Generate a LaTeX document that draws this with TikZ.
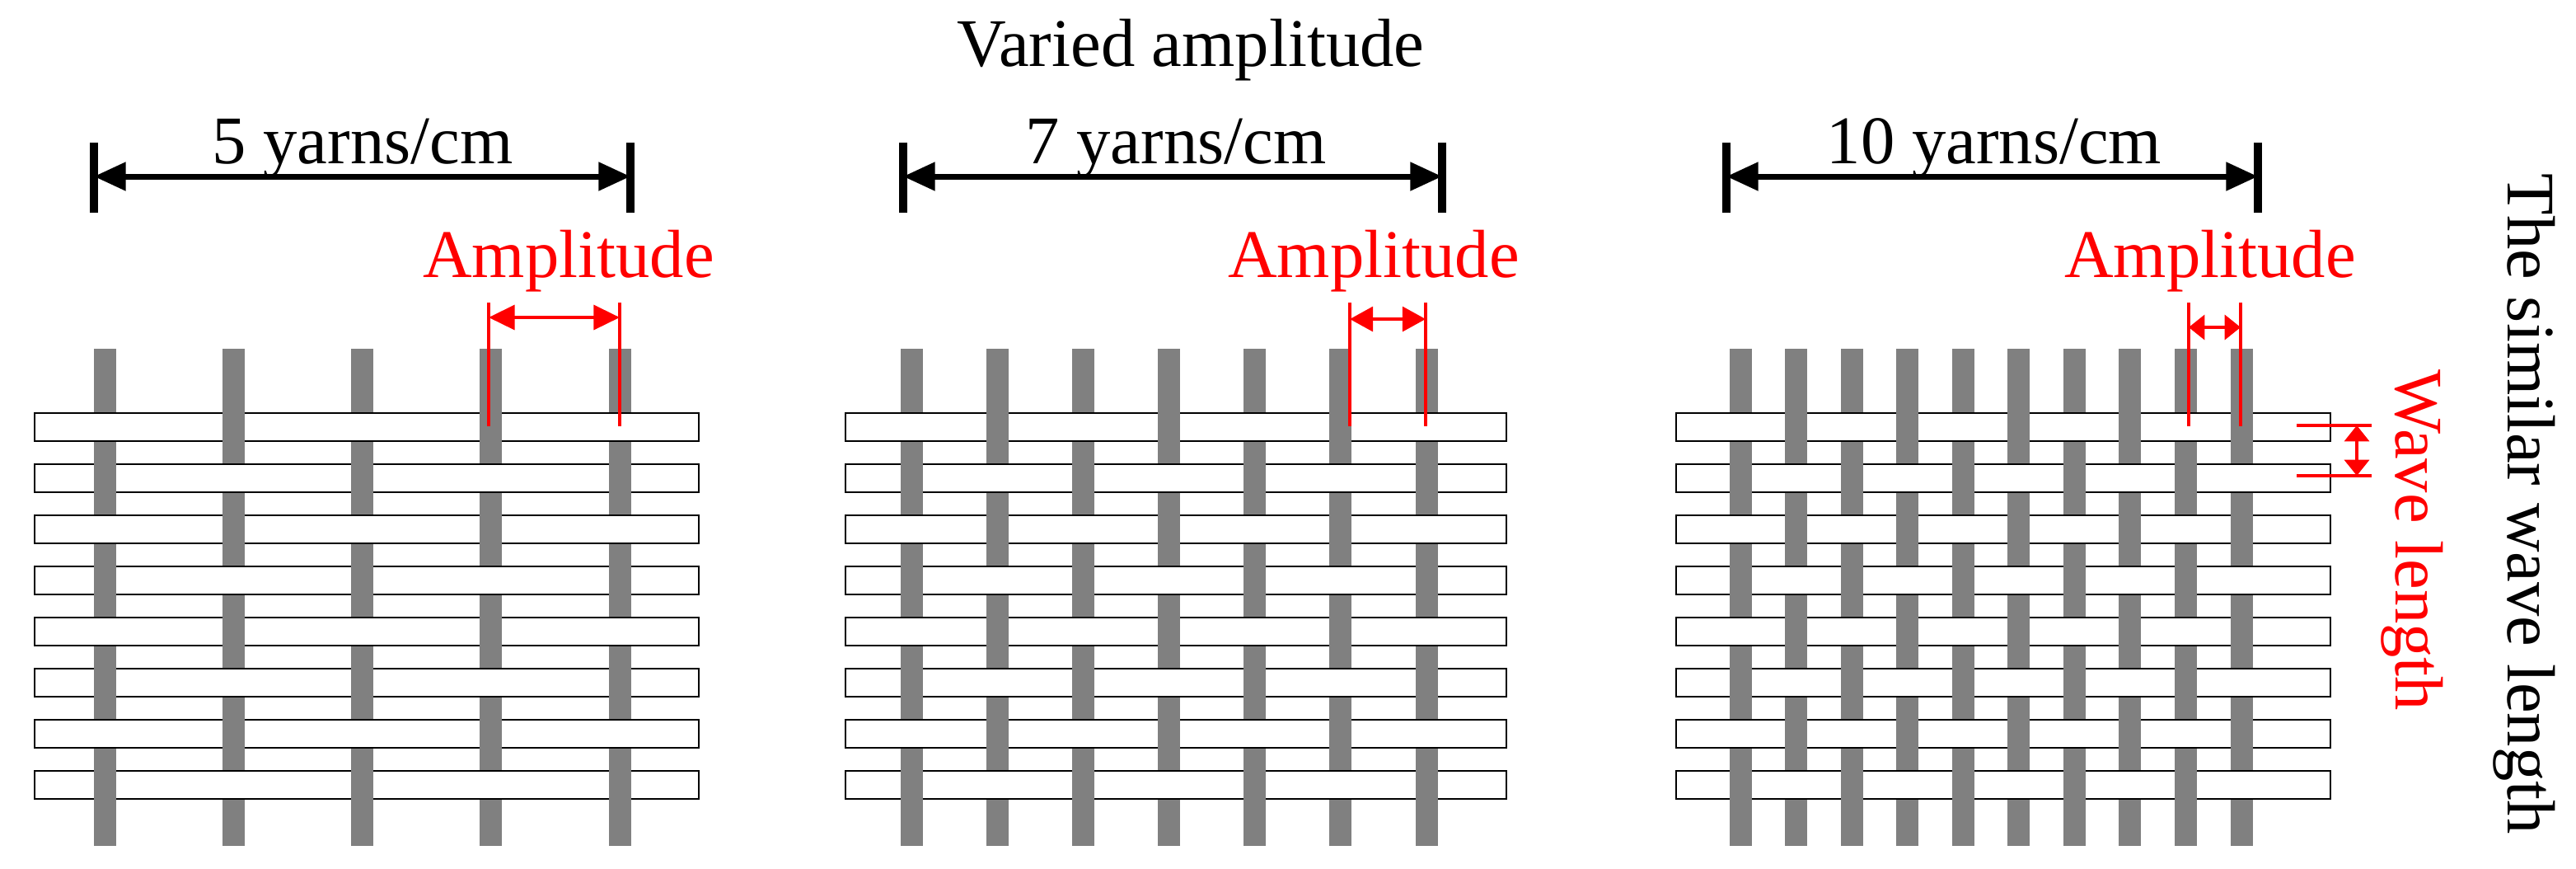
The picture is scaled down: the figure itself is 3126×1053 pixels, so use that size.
\documentclass[tikz,border=0pt]{standalone}
\usepackage{fontspec}
\setmainfont{Liberation Serif}
\usetikzlibrary{arrows.meta}
\begin{document}
\begin{tikzpicture}[x=0.01cm,y=-0.01cm,
  weft/.style={fill=white,draw=black,line width=0.8pt},
  lbl/.style={font=\fontsize{23.5}{26}\selectfont,inner sep=0pt},
  dim/.style={line width=2pt,{Triangle[length=11pt,width=9.5pt]}-{Triangle[length=11pt,width=9.5pt]}},
  amp/.style={red,line width=1.1pt,{Triangle[length=#1,width=8.5pt]}-{Triangle[length=#1,width=8.5pt]}},
  redl/.style={red,line width=1.1pt}]
\useasboundingbox (0,0) rectangle (3126,1053);
\foreach \L/\R/\A/\B/\N in {42/848/127/752/5, 1026/1828/1106/1731/7, 2034/2828/2112/2720/10}{
  \pgfmathsetmacro{\dx}{(\B-\A)/(\N-1)}
  \foreach \j in {1,...,\N}{
    \pgfmathsetmacro{\xc}{\A+(\j-1)*\dx}
    \fill[black!50] (\xc-13.5,423) rectangle (\xc+13.5,1026);
  }
  \foreach \i in {0,...,7}{
    \pgfmathsetmacro{\yt}{501+\i*62}
    \draw[weft] (\L,\yt) rectangle (\R,\yt+34);
    \foreach \j in {1,...,\N}{
      \pgfmathsetmacro{\xc}{\A+(\j-1)*\dx}
      \pgfmathtruncatemacro{\pty}{mod(\i+\j,2)}
      \ifnum\pty=0 \fill[black!50] (\xc-13.5,\yt-2) rectangle (\xc+13.5,\yt+36);\fi
    }
  }
}
\node[lbl,anchor=base] (title) at (1445,80) {Varied amplitude};
\foreach \n/\a/\b/\t/\tx in {d1/114/765/5/440, d2/1096/1750/7/1427, d3/2095/2740/10/2420}{
  \coordinate (\n l) at (\a,214);
  \coordinate (\n r) at (\b,214);
  \draw[line width=2.6pt] (\a,173) -- (\a,258) (\b,173) -- (\b,258);
  \draw[dim] (\n l) -- (\n r);
  \node[lbl,anchor=base] (\n t) at (\tx,198) {\t\ yarns/cm};
}
\foreach \n/\a/\b/\ya/\tx/\hl in {a1/593/752/385/690/9pt, a2/1638/1730/387/1667/8pt, a3/2656/2719/397/2682/5.5pt}{
  \draw[redl] (\a,367) -- (\a,517) (\b,367) -- (\b,517);
  \coordinate (\n l) at (\a,\ya);
  \coordinate (\n r) at (\b,\ya);
  \draw[amp=\hl] (\n l) -- (\n r);
  \node[lbl,red,anchor=base] (\n t) at (\tx,336) {Amplitude};
}
\draw[redl] (2787,516) -- (2878,516) (2787,577) -- (2878,577);
\coordinate (w1) at (2860,516);
\coordinate (w2) at (2860,577);
\draw[amp=5.5pt] (w1) -- (w2);
\node[lbl,red,rotate=-90,anchor=base west] (wl) at (2907,448) {Wave length};
\node[lbl,rotate=-90,anchor=base west] (sim) at (3043,210) {The similar wave length};
\end{tikzpicture}
\end{document}
